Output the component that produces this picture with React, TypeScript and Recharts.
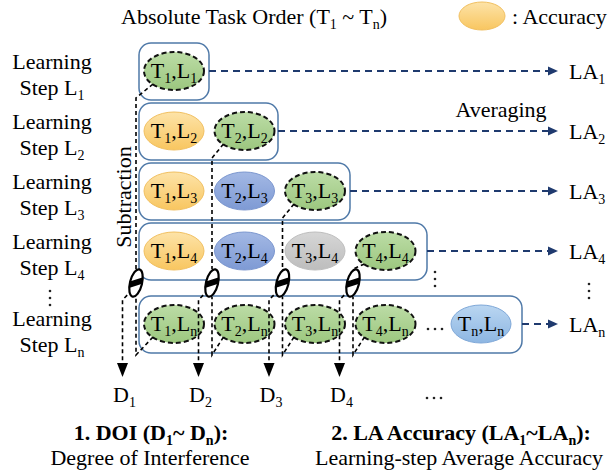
import React from 'react';
import { ScatterChart, Scatter, XAxis, YAxis, ReferenceArea } from 'recharts';

// ---------- data ----------
const stepLabels = ['1', '2', '3', '4', 'n'];
const taskLabels = ['1', '2', '3', '4', 'n'];
// accuracy cell kind per learning step: cur = task learned at that step
const rowKinds: string[][] = [
  ['cur'],
  ['old', 'cur'],
  ['old', 'mid', 'cur'],
  ['old', 'mid', 'gray', 'cur'],
  ['cur', 'cur', 'cur', 'cur', 'last'],
];
const laLabels = ['1', '2', '3', '4', 'n'];
const doiLabels = ['1', '2', '3', '4'];
const titleText = 'Absolute Task Order (T';
const legendText = ': Accuracy';
const subtractionText = 'Subtraction';
const averagingText = 'Averaging';
const doiTitle = '1. DOI (D';
const doiSubtitle = 'Degree of Interference';
const laTitle = '2. LA Accuracy (LA';
const laSubtitle = 'Learning-step Average Accuracy';

// ---------- layout ----------
const W = 611;
const H = 474;
const COL_PX = 70.5;
const ROW_PX = 60;
const COL1 = 174;
const ROW1 = 71;
const ux = (px: number) => 1 + (px - COL1) / COL_PX;
const uy = (py: number) => 1 + (py - ROW1) / ROW_PX;
const dx = (px: number) => px / COL_PX;
const dy = (py: number) => py / ROW_PX;
const X_DOMAIN = [ux(0), ux(W)];
const Y_DOMAIN = [uy(0), uy(H)];
const colPos = (i: number) => (i < 4 ? i + 1 : ux(481));
const rowPos = (i: number) => (i < 4 ? i + 1 : uy(324));
const labelRow = (i: number) => (i < 4 ? i + 1 : uy(328));
const BOX_LEFT = ux(139);
const BOX_RIGHT = [ux(209), ux(278), ux(350), ux(427), ux(522)];
const LA_TIP = ux(558);
const LA_TEXT = ux(569);
const SYM_Y = uy(283);
const symX = (k: number) => colPos(k) + (k === 0 ? dx(-38) : dx(-32.5));
const outX = (k: number) => symX(k) - dx(13.5);
const ARROW_BASE = uy(363);
const D_BASE = uy(402);

const SERIF = 'Liberation Serif, Times New Roman, serif';
const NAVY = '#1F3A6E';

const KIND_STYLE: Record<string, { top: string; bot: string; stroke: string; dash?: string; sw: number }> = {
  cur: { top: '#BCDCA6', bot: '#9CC77F', stroke: '#111', dash: '5 3', sw: 2 },
  old: { top: '#FDE3A8', bot: '#F8C660', stroke: '#F1C061', sw: 1 },
  mid: { top: '#A3B8E4', bot: '#7E9AD4', stroke: '#7C97CF', sw: 1 },
  gray: { top: '#D6D6D6', bot: '#BDBDBD', stroke: '#BEBEBE', sw: 1 },
  last: { top: '#BAD6F1', bot: '#8DB6E2', stroke: '#7FA8D8', sw: 1 },
};

type Part = string | { sub: string };
function parts(list: Part[], subSize = 14, shift = 5) {
  let off = 0;
  return list.map((p, i) => {
    if (typeof p === 'string') {
      const el = (
        <tspan key={i} dy={-off}>
          {p}
        </tspan>
      );
      off = 0;
      return el;
    }
    const el = (
      <tspan key={i} fontSize={subSize} dy={shift - off}>
        {p.sub}
      </tspan>
    );
    off = shift;
    return el;
  });
}

const Grad = ({ kind }: { kind: string }) => {
  const s = KIND_STYLE[kind];
  return (
    <defs>
      <linearGradient id={`grad-${kind}`} x1="0" y1="0" x2="0" y2="1">
        <stop offset="0%" stopColor={s.top} />
        <stop offset="100%" stopColor={s.bot} />
      </linearGradient>
    </defs>
  );
};

const CellShape = (p: any) => {
  const { cx, cy, payload } = p;
  const s = KIND_STYLE[payload.kind];
  return (
    <g>
      <Grad kind={payload.kind} />
      <ellipse
        cx={cx}
        cy={cy}
        rx={30}
        ry={19}
        fill={`url(#grad-${payload.kind})`}
        stroke={s.stroke}
        strokeWidth={s.sw}
        strokeDasharray={s.dash}
      />
      <text x={cx} y={cy + 7} textAnchor="middle" style={{ fontFamily: SERIF, fontSize: 22 }} fill="#000">
        {parts(['T', { sub: payload.task }, ',L', { sub: payload.step }])}
      </text>
    </g>
  );
};

const SymbolShape = (p: any) => {
  const { cx, cy, payload } = p;
  const id = `symclip-${payload.id}`;
  return (
    <g transform={`rotate(14 ${cx} ${cy})`}>
      <defs>
        <clipPath id={id}>
          <ellipse cx={cx} cy={cy} rx={6} ry={14} />
        </clipPath>
      </defs>
      <ellipse cx={cx} cy={cy} rx={6} ry={14} fill="#fff" />
      <polygon
        points={`${cx - 8},${cy + 1} ${cx + 8},${cy - 9} ${cx + 8},${cy - 2} ${cx - 8},${cy + 8}`}
        fill="#000"
        clipPath={`url(#${id})`}
      />
      <ellipse cx={cx} cy={cy} rx={6} ry={14} fill="none" stroke="#000" strokeWidth={2.2} />
    </g>
  );
};

const RightHead = (p: any) =>
  p.payload.head ? (
    <polygon points={`${p.cx},${p.cy - 4.5} ${p.cx + 10},${p.cy} ${p.cx},${p.cy + 4.5}`} fill={NAVY} />
  ) : (
    <g />
  );

const DownHead = (p: any) =>
  p.payload.head ? (
    <polygon points={`${p.cx - 5.5},${p.cy} ${p.cx + 5.5},${p.cy} ${p.cx},${p.cy + 14}`} fill="#000" />
  ) : (
    <g />
  );

const NoDot = () => <g />;

const textShape =
  (content: Part[], opts: { anchor?: string; size?: number; weight?: string; rotate?: number; subSize?: number } = {}) =>
  (p: any) => {
    const { cx, cy } = p;
    return (
      <text
        x={cx}
        y={cy}
        textAnchor={opts.anchor || 'middle'}
        style={{ fontFamily: SERIF, fontSize: opts.size || 22, fontWeight: opts.weight || 'normal' }}
        fill="#000"
        transform={opts.rotate ? `rotate(${opts.rotate} ${cx} ${cy})` : undefined}
      >
        {parts(content, opts.subSize || 14)}
      </text>
    );
  };

const DotsShape = (vertical: boolean) => (p: any) => {
  const { cx, cy } = p;
  const offs = [-7, 0, 7];
  return (
    <g>
      {offs.map((o) => (
        <circle key={o} cx={vertical ? cx : cx + o} cy={vertical ? cy + o : cy} r={1.3} fill="#222" />
      ))}
    </g>
  );
};

const LegendShape = (p: any) => (
  <g>
    <Grad kind="old" />
    <ellipse cx={p.cx} cy={p.cy} rx={23} ry={14} fill="url(#grad-old)" stroke="#F1C061" strokeWidth={1} />
  </g>
);

// ---------- derived series ----------
const cells = rowKinds.flatMap((kinds, r) =>
  kinds.map((kind, c) => ({ x: colPos(c), y: rowPos(r), task: taskLabels[c], step: stepLabels[r], kind }))
);

const symbols = doiLabels.map((d, k) => ({ x: symX(k), y: SYM_Y, id: d }));

const lineA = (k: number) => [
  { x: colPos(k) - dx(21), y: rowPos(k) + dy(13) },
  { x: symX(k), y: Math.min(rowPos(k) + dy(27), SYM_Y - dy(14)) },
  { x: symX(k), y: SYM_Y - dy(14) },
];
const lineB = (k: number) => [
  { x: colPos(k) - dx(21), y: rowPos(4) + dy(13) },
  { x: symX(k), y: rowPos(4) + dy(31) },
  { x: symX(k), y: SYM_Y + dy(14) },
];
const lineC = (k: number) => [
  { x: symX(k) - dx(4), y: SYM_Y + dy(7) },
  { x: outX(k), y: SYM_Y + dy(17) },
  { x: outX(k), y: ARROW_BASE, head: true },
];

const blackDash = { stroke: '#000', strokeWidth: 1.6, strokeDasharray: '4 3' };

export default function App() {
  return (
    <div style={{ position: 'absolute', left: 0, top: 0, width: W, height: H, background: '#fff', fontFamily: SERIF }}>
      <ScatterChart width={W} height={H} margin={{ top: 0, right: 0, bottom: 0, left: 0 }} style={{ fontFamily: SERIF }}>
        <XAxis type="number" dataKey="x" domain={X_DOMAIN} allowDataOverflow hide />
        <YAxis type="number" dataKey="y" domain={Y_DOMAIN} allowDataOverflow reversed hide />

        {rowKinds.map((_, r) => (
          <ReferenceArea
            key={`box-${r}`}
            x1={BOX_LEFT}
            x2={BOX_RIGHT[r]}
            y1={rowPos(r) - dy(28)}
            y2={rowPos(r) + dy(29)}
            ifOverflow="visible"
            shape={(p: any) => (
              <rect
                x={p.x}
                y={p.y}
                width={p.width}
                height={p.height}
                rx={12}
                ry={12}
                fill="none"
                stroke="#4F79A8"
                strokeWidth={1.5}
              />
            )}
          />
        ))}

        {/* LA arrows */}
        {laLabels.map((l, r) => (
          <Scatter
            key={`la-${r}`}
            data={[
              { x: BOX_RIGHT[r], y: rowPos(r) },
              { x: LA_TIP - dx(10), y: rowPos(r), head: true },
            ]}
            line={{ stroke: NAVY, strokeWidth: 2, strokeDasharray: '7 5' }}
            shape={RightHead}
            isAnimationActive={false}
          />
        ))}

        <Scatter data={cells} shape={CellShape} isAnimationActive={false} />

        {doiLabels.map((_, k) => (
          <Scatter key={`a-${k}`} data={lineA(k)} line={blackDash} shape={NoDot} isAnimationActive={false} />
        ))}
        {doiLabels.map((_, k) => (
          <Scatter key={`b-${k}`} data={lineB(k)} line={blackDash} shape={NoDot} isAnimationActive={false} />
        ))}
        {doiLabels.map((_, k) => (
          <Scatter key={`c-${k}`} data={lineC(k)} line={blackDash} shape={DownHead} isAnimationActive={false} />
        ))}

        <Scatter data={symbols} shape={SymbolShape} isAnimationActive={false} />

        {/* Learning step labels */}
        {stepLabels.map((s, r) => (
          <Scatter
            key={`ls-${r}`}
            data={[{ x: ux(52), y: labelRow(r) - dy(2) }]}
            shape={textShape(['Learning'])}
            isAnimationActive={false}
          />
        ))}
        {stepLabels.map((s, r) => (
          <Scatter
            key={`st-${r}`}
            data={[{ x: ux(52), y: labelRow(r) + dy(24) }]}
            shape={textShape(['Step L', { sub: s }])}
            isAnimationActive={false}
          />
        ))}

        {/* LA labels */}
        {laLabels.map((l, r) => (
          <Scatter
            key={`lat-${r}`}
            data={[{ x: LA_TEXT, y: rowPos(r) + dy(8) }]}
            shape={textShape(['LA', { sub: l }], { anchor: 'start' })}
            isAnimationActive={false}
          />
        ))}

        {/* D labels */}
        {doiLabels.map((d, k) => (
          <Scatter
            key={`d-${k}`}
            data={[{ x: outX(k) + dx(2), y: D_BASE }]}
            shape={textShape(['D', { sub: d }])}
            isAnimationActive={false}
          />
        ))}
        <Scatter data={[{ x: ux(434), y: uy(398) }]} shape={DotsShape(false)} isAnimationActive={false} />

        {/* ellipses / dots */}
        <Scatter data={[{ x: ux(435), y: uy(329) }]} shape={DotsShape(false)} isAnimationActive={false} />
        <Scatter data={[{ x: ux(435), y: uy(279) }]} shape={DotsShape(true)} isAnimationActive={false} />
        <Scatter data={[{ x: ux(589), y: uy(291) }]} shape={DotsShape(true)} isAnimationActive={false} />
        <Scatter data={[{ x: ux(50), y: uy(298) }]} shape={DotsShape(true)} isAnimationActive={false} />

        {/* title & legend */}
        <Scatter
          data={[{ x: ux(121), y: uy(24) }]}
          shape={textShape([titleText, { sub: '1' }, ' ~ T', { sub: 'n' }, ')'], { anchor: 'start' })}
          isAnimationActive={false}
        />
        <Scatter data={[{ x: ux(482), y: uy(16) }]} shape={LegendShape} isAnimationActive={false} />
        <Scatter
          data={[{ x: ux(512), y: uy(24) }]}
          shape={textShape([legendText], { anchor: 'start' })}
          isAnimationActive={false}
        />

        <Scatter
          data={[{ x: ux(131), y: uy(197) }]}
          shape={textShape([subtractionText], { rotate: -90 })}
          isAnimationActive={false}
        />
        <Scatter
          data={[{ x: ux(501), y: uy(117) }]}
          shape={textShape([averagingText])}
          isAnimationActive={false}
        />

        {/* bottom captions */}
        <Scatter
          data={[{ x: ux(151), y: uy(440) }]}
          shape={textShape([doiTitle, { sub: '1' }, '~ D', { sub: 'n' }, '):'], { weight: 'bold' })}
          isAnimationActive={false}
        />
        <Scatter
          data={[{ x: ux(150), y: uy(465) }]}
          shape={textShape([doiSubtitle])}
          isAnimationActive={false}
        />
        <Scatter
          data={[{ x: ux(461), y: uy(440) }]}
          shape={textShape([laTitle, { sub: '1' }, '~LA', { sub: 'n' }, '):'], { weight: 'bold' })}
          isAnimationActive={false}
        />
        <Scatter
          data={[{ x: ux(459), y: uy(465) }]}
          shape={textShape([laSubtitle])}
          isAnimationActive={false}
        />
      </ScatterChart>
    </div>
  );
}
